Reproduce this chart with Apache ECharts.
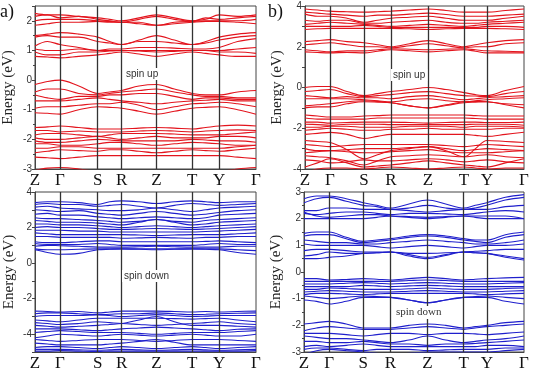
<!DOCTYPE html>
<html>
<head>
<meta charset="utf-8">
<script src="https://cdn.jsdelivr.net/npm/echarts@6/dist/echarts.min.js"></script>
<style>
  html, body { margin: 0; padding: 0; background: #fff; }
  #bands { width: 534px; height: 372px; }
</style>
</head>
<body>
<div id="bands"></div>
<script>
// high symmetry points (path lengths, left and right column)
var kNames = ['Z', 'Γ', 'S', 'R', 'Z', 'T', 'Y', 'Γ'];
var kLeft = [0, 25, 63, 87, 122, 158, 185, 222];
var kRight = [0, 25, 59, 86, 123, 159, 182, 219];

// energies at Z, mid, Γ, mid, S, mid, R, mid, Z, mid, T, mid, Y, mid, Γ
// a) spin up
var upA = [
  [2.25,2.2,2.2,2.15,2.1,2.05,2.0,2.1,2.2,2.1,2.0,2.05,2.2,2.15,2.2],
  [2.15,2.2,2.1,2.15,2.05,2.0,1.95,2.05,2.15,2.05,1.98,2.1,2.05,2.1,2.15],
  [2.0,2.05,2.05,2.05,2.0,1.98,1.95,1.95,1.85,1.95,1.98,2.0,2.0,2.0,2.05],
  [1.85,1.9,1.95,1.95,1.98,1.95,1.95,1.9,1.85,1.9,1.95,1.98,1.98,1.95,1.9],
  [1.5,1.55,1.6,1.55,1.45,1.3,1.2,1.35,1.5,1.35,1.2,1.3,1.45,1.55,1.6],
  [1.45,1.5,1.45,1.45,1.3,1.25,1.2,1.3,1.3,1.25,1.2,1.25,1.35,1.45,1.5],
  [1.15,1.3,1.2,1.1,1.0,1.05,1.05,1.1,1.1,1.08,1.05,1.05,1.1,1.3,1.4],
  [1.05,1.0,1.0,1.05,1.0,1.0,1.0,1.0,1.0,1.0,1.0,1.0,1.0,1.05,1.1],
  [0.95,0.85,0.85,0.95,0.95,0.98,1.0,0.98,0.95,0.97,1.0,1.0,0.95,0.95,0.9],
  [0.8,0.78,0.75,0.8,0.85,0.9,0.95,0.88,0.8,0.88,0.95,0.9,0.85,0.8,0.8],
  [-0.15,-0.05,0.0,-0.2,-0.45,-0.4,-0.35,-0.2,-0.15,-0.3,-0.45,-0.5,-0.5,-0.4,-0.35],
  [-0.4,-0.3,-0.3,-0.45,-0.5,-0.45,-0.4,-0.35,-0.3,-0.4,-0.5,-0.55,-0.55,-0.6,-0.6],
  [-0.5,-0.6,-0.65,-0.55,-0.55,-0.5,-0.5,-0.45,-0.45,-0.55,-0.65,-0.6,-0.6,-0.65,-0.65],
  [-0.7,-0.7,-0.7,-0.65,-0.6,-0.65,-0.7,-0.75,-0.8,-0.75,-0.7,-0.68,-0.65,-0.7,-0.7],
  [-0.95,-0.9,-0.9,-0.85,-0.8,-0.8,-0.75,-0.85,-1.0,-0.9,-0.8,-0.78,-0.75,-0.8,-0.9],
  [-1.1,-1.12,-1.15,-1.0,-0.9,-0.92,-0.95,-1.05,-1.15,-1.05,-0.95,-0.92,-0.9,-1.0,-1.15],
  [-1.6,-1.58,-1.55,-1.6,-1.65,-1.65,-1.65,-1.62,-1.6,-1.62,-1.65,-1.6,-1.55,-1.52,-1.55],
  [-1.7,-1.7,-1.75,-1.72,-1.75,-1.75,-1.75,-1.72,-1.7,-1.72,-1.75,-1.72,-1.7,-1.68,-1.7],
  [-1.85,-1.8,-1.8,-1.85,-1.9,-1.85,-1.8,-1.8,-1.8,-1.82,-1.85,-1.85,-1.85,-1.8,-1.75],
  [-1.95,-2.0,-2.0,-1.95,-1.9,-1.95,-2.0,-1.95,-1.9,-1.95,-1.95,-1.95,-1.9,-1.9,-1.95],
  [-2.05,-2.1,-2.1,-2.05,-2.0,-2.02,-2.05,-2.05,-2.05,-2.05,-2.0,-2.02,-2.05,-2.05,-2.1],
  [-2.15,-2.15,-2.2,-2.2,-2.15,-2.1,-2.1,-2.15,-2.2,-2.15,-2.1,-2.12,-2.15,-2.2,-2.2],
  [-2.3,-2.3,-2.25,-2.25,-2.3,-2.3,-2.3,-2.3,-2.3,-2.3,-2.3,-2.3,-2.3,-2.25,-2.2],
  [-2.45,-2.4,-2.35,-2.38,-2.4,-2.35,-2.35,-2.4,-2.45,-2.4,-2.35,-2.38,-2.4,-2.35,-2.3],
  [-2.6,-2.62,-2.65,-2.6,-2.55,-2.55,-2.55,-2.55,-2.55,-2.55,-2.55,-2.55,-2.55,-2.6,-2.65],
  [-3.05,-2.97,-2.95,-3.0,-3.1,-3.2,-3.3,-3.3,-3.3,-3.3,-3.3,-3.2,-3.1,-3.0,-2.95]
];

// b) spin up
var upB = [
  [3.85,3.8,3.75,3.72,3.7,3.72,3.75,3.8,3.85,3.78,3.7,3.7,3.7,3.78,3.85],
  [3.7,3.65,3.6,3.55,3.5,3.55,3.55,3.6,3.65,3.58,3.5,3.5,3.5,3.55,3.6],
  [3.6,3.5,3.5,3.4,3.2,3.3,3.4,3.45,3.5,3.4,3.3,3.3,3.3,3.4,3.5],
  [3.3,3.25,3.3,3.3,3.15,3.15,3.2,3.25,3.3,3.2,3.15,3.15,3.2,3.25,3.3],
  [3.1,3.15,3.2,3.15,3.1,3.05,3.0,3.05,3.1,3.05,3.0,3.05,3.1,3.15,3.2],
  [3.0,3.0,3.0,3.0,3.05,3.0,2.95,2.95,2.95,2.95,2.95,2.95,3.0,3.0,2.95],
  [2.85,2.88,2.9,2.9,2.9,2.9,2.9,2.88,2.85,2.88,2.9,2.9,2.9,2.88,2.85],
  [2.25,2.3,2.35,2.25,2.2,2.1,2.0,2.15,2.3,2.15,2.0,2.1,2.2,2.3,2.35],
  [2.1,2.15,2.2,2.1,2.0,2.0,1.95,2.05,2.15,2.05,1.95,2.0,2.0,2.15,2.2],
  [1.85,1.8,1.75,1.8,1.8,1.85,1.9,1.88,1.85,1.88,1.9,1.85,1.8,1.78,1.75],
  [1.75,1.72,1.7,1.72,1.7,1.78,1.85,1.8,1.75,1.8,1.85,1.78,1.7,1.7,1.7],
  [0.0,0.05,0.05,-0.2,-0.4,-0.3,-0.2,-0.1,0.0,-0.1,-0.25,-0.35,-0.4,-0.15,0.05],
  [-0.2,-0.15,-0.1,-0.3,-0.45,-0.4,-0.35,-0.25,-0.2,-0.3,-0.4,-0.42,-0.45,-0.3,-0.2],
  [-0.4,-0.45,-0.5,-0.45,-0.5,-0.5,-0.55,-0.45,-0.4,-0.5,-0.6,-0.55,-0.5,-0.45,-0.4],
  [-0.55,-0.55,-0.55,-0.55,-0.6,-0.65,-0.7,-0.6,-0.55,-0.65,-0.7,-0.65,-0.6,-0.55,-0.5],
  [-0.9,-0.85,-0.8,-0.7,-0.65,-0.68,-0.75,-0.9,-1.0,-0.85,-0.7,-0.68,-0.7,-0.8,-0.85],
  [-1.0,-0.95,-0.95,-0.8,-0.7,-0.72,-0.75,-0.9,-1.0,-0.88,-0.75,-0.72,-0.7,-0.85,-1.0],
  [-1.35,-1.4,-1.45,-1.45,-1.4,-1.38,-1.35,-1.35,-1.35,-1.35,-1.35,-1.38,-1.4,-1.4,-1.4],
  [-1.5,-1.55,-1.55,-1.55,-1.55,-1.5,-1.5,-1.5,-1.5,-1.5,-1.5,-1.52,-1.55,-1.55,-1.55],
  [-1.7,-1.7,-1.75,-1.72,-1.7,-1.7,-1.7,-1.72,-1.75,-1.72,-1.7,-1.7,-1.72,-1.72,-1.7],
  [-1.8,-1.82,-1.85,-1.8,-1.8,-1.8,-1.82,-1.82,-1.82,-1.82,-1.82,-1.8,-1.8,-1.8,-1.85],
  [-1.95,-1.95,-1.9,-1.9,-1.95,-1.95,-1.95,-1.9,-1.9,-1.9,-1.95,-1.9,-1.9,-1.9,-1.95],
  [-2.1,-2.05,-2.0,-2.05,-2.1,-2.1,-2.05,-2.05,-2.0,-2.05,-2.05,-2.05,-2.05,-2.0,-2.0],
  [-2.3,-2.25,-2.2,-2.3,-2.5,-2.4,-2.3,-2.3,-2.3,-2.3,-2.3,-2.35,-2.4,-2.3,-2.2],
  [-2.6,-2.65,-2.7,-3.05,-3.5,-3.3,-3.1,-3.0,-2.9,-3.1,-3.4,-3.0,-2.6,-2.65,-2.7],
  [-2.8,-2.85,-2.9,-2.85,-2.8,-2.8,-2.8,-2.8,-2.8,-2.85,-2.9,-2.85,-2.8,-2.85,-2.9],
  [-3.0,-3.1,-3.1,-3.05,-3.0,-3.0,-3.0,-2.95,-2.9,-3.0,-3.1,-3.05,-3.0,-3.05,-3.1],
  [-3.2,-3.15,-3.1,-3.15,-3.2,-3.2,-3.15,-3.1,-3.05,-3.15,-3.2,-3.2,-3.2,-3.15,-3.1],
  [-3.35,-3.4,-3.45,-3.6,-3.8,-3.6,-3.4,-3.35,-3.3,-3.35,-3.4,-3.35,-3.3,-3.4,-3.45],
  [-3.55,-3.6,-3.7,-3.65,-3.55,-3.6,-3.6,-3.55,-3.5,-3.55,-3.65,-3.6,-3.55,-3.65,-3.7],
  [-3.9,-3.7,-3.5,-3.7,-3.9,-3.85,-3.8,-3.7,-3.6,-3.7,-3.8,-3.85,-3.9,-3.7,-3.5],
  [-4.2,-4.0,-3.95,-3.95,-4.0,-3.95,-3.9,-3.95,-4.0,-3.95,-3.9,-3.95,-4.0,-3.95,-3.95]
];

// a) spin down
var downA = [
  [3.4,3.45,3.45,3.4,3.3,3.45,3.5,3.45,3.35,3.45,3.5,3.45,3.4,3.45,3.45],
  [3.3,3.35,3.3,3.3,3.2,3.25,3.3,3.2,3.1,3.25,3.35,3.3,3.25,3.3,3.35],
  [3.15,3.2,3.1,3.05,3.0,2.95,2.95,3.0,3.1,3.0,2.9,3.0,3.1,3.15,3.2],
  [3.0,2.95,2.9,2.95,2.8,2.75,2.7,2.8,2.9,2.8,2.7,2.75,2.85,2.95,3.0],
  [2.75,2.8,2.7,2.7,2.6,2.55,2.5,2.55,2.6,2.55,2.5,2.55,2.7,2.75,2.8],
  [2.55,2.5,2.5,2.45,2.4,2.35,2.3,2.35,2.45,2.35,2.3,2.4,2.45,2.5,2.55],
  [2.4,2.35,2.3,2.3,2.25,2.2,2.15,2.3,2.45,2.3,2.15,2.2,2.3,2.35,2.4],
  [2.2,2.2,2.15,2.15,2.1,2.05,2.0,2.05,2.1,2.05,2.0,2.05,2.1,2.15,2.2],
  [2.0,2.05,2.0,2.0,1.95,1.9,1.9,1.92,1.95,1.92,1.9,1.92,1.95,2.0,2.05],
  [1.85,1.85,1.85,1.8,1.8,1.75,1.75,1.75,1.75,1.75,1.75,1.78,1.8,1.85,1.9],
  [1.7,1.65,1.6,1.6,1.6,1.6,1.6,1.58,1.55,1.58,1.6,1.6,1.6,1.65,1.7],
  [1.5,1.5,1.45,1.45,1.45,1.45,1.4,1.42,1.45,1.42,1.4,1.45,1.45,1.5,1.5],
  [1.2,1.15,1.15,1.2,1.25,1.25,1.2,1.2,1.2,1.2,1.2,1.22,1.25,1.2,1.15],
  [1.1,1.05,1.05,1.05,1.1,1.05,1.0,1.0,1.0,1.0,1.0,1.05,1.1,1.05,1.05],
  [0.95,1.0,0.98,0.95,0.9,0.9,0.9,0.92,0.95,0.92,0.9,0.9,0.9,0.95,0.95],
  [0.8,0.75,0.75,0.78,0.8,0.8,0.8,0.8,0.8,0.8,0.8,0.8,0.8,0.75,0.7],
  [0.75,0.6,0.5,0.55,0.75,0.78,0.8,0.78,0.75,0.78,0.8,0.78,0.75,0.6,0.5],
  [-2.7,-2.72,-2.75,-2.72,-2.8,-2.75,-2.7,-2.7,-2.7,-2.72,-2.75,-2.72,-2.75,-2.72,-2.7],
  [-2.85,-2.8,-2.8,-2.85,-2.9,-2.88,-2.85,-2.85,-2.8,-2.85,-2.9,-2.88,-2.85,-2.82,-2.8],
  [-3.0,-2.95,-2.95,-2.95,-2.9,-2.95,-3.0,-2.95,-2.9,-2.95,-3.0,-2.98,-2.95,-2.95,-2.95],
  [-3.2,-3.25,-3.3,-3.2,-3.1,-3.1,-3.1,-3.1,-3.1,-3.12,-3.15,-3.12,-3.1,-3.2,-3.3],
  [-3.35,-3.4,-3.45,-3.4,-3.3,-3.35,-3.4,-3.45,-3.5,-3.45,-3.4,-3.35,-3.3,-3.4,-3.45],
  [-3.5,-3.55,-3.6,-3.55,-3.5,-3.45,-3.4,-3.2,-3.0,-3.3,-3.5,-3.5,-3.5,-3.55,-3.6],
  [-3.7,-3.7,-3.7,-3.75,-3.8,-3.75,-3.7,-3.65,-3.6,-3.65,-3.7,-3.75,-3.8,-3.72,-3.7],
  [-3.9,-3.85,-3.8,-3.85,-3.9,-3.9,-3.9,-3.95,-4.0,-3.95,-3.9,-3.9,-3.9,-3.85,-3.8],
  [-4.2,-4.1,-4.0,-4.05,-4.1,-4.05,-4.0,-4.05,-4.1,-4.05,-4.0,-4.05,-4.1,-4.1,-4.0],
  [-4.3,-4.35,-4.4,-4.35,-4.3,-4.3,-4.3,-4.35,-4.4,-4.35,-4.3,-4.3,-4.3,-4.35,-4.4],
  [-4.5,-4.55,-4.6,-4.6,-4.6,-4.55,-4.5,-4.4,-4.3,-4.45,-4.6,-4.6,-4.6,-4.6,-4.6],
  [-4.75,-4.7,-4.7,-4.75,-4.8,-4.75,-4.7,-4.75,-4.8,-4.75,-4.7,-4.75,-4.8,-4.75,-4.7],
  [-4.85,-4.85,-4.85,-4.88,-4.9,-4.88,-4.85,-4.88,-4.9,-4.88,-4.85,-4.88,-4.9,-4.88,-4.85],
  [-4.95,-4.95,-4.92,-4.95,-4.97,-4.95,-4.95,-4.95,-4.95,-4.95,-4.95,-4.95,-4.95,-4.95,-4.92]
];

// b) spin down
var downB = [
  [2.75,2.85,2.85,2.75,2.6,2.5,2.4,2.55,2.7,2.55,2.4,2.5,2.6,2.8,2.9],
  [2.6,2.75,2.8,2.65,2.5,2.45,2.35,2.4,2.5,2.4,2.35,2.4,2.5,2.7,2.8],
  [2.3,2.3,2.4,2.4,2.35,2.35,2.35,2.3,2.25,2.3,2.35,2.35,2.35,2.45,2.5],
  [2.2,2.15,2.2,2.25,2.25,2.2,2.15,2.2,2.2,2.18,2.15,2.2,2.25,2.3,2.25],
  [2.25,2.1,2.05,2.1,2.15,2.15,2.1,2.05,2.0,2.05,2.1,2.1,2.1,2.1,2.0],
  [2.0,2.0,2.0,2.0,2.0,2.05,2.1,2.08,2.05,2.08,2.1,2.05,2.0,2.0,2.0],
  [1.45,1.5,1.5,1.3,1.15,1.2,1.25,1.35,1.4,1.35,1.25,1.2,1.2,1.4,1.5],
  [1.35,1.4,1.4,1.25,1.1,1.15,1.2,1.3,1.35,1.3,1.2,1.15,1.1,1.3,1.4],
  [1.2,1.15,1.1,1.1,1.05,1.05,1.1,1.15,1.2,1.15,1.1,1.05,1.05,1.1,1.2],
  [1.05,1.0,1.0,1.0,1.0,0.95,0.9,0.95,1.0,0.95,0.9,0.95,1.0,1.0,1.05],
  [0.8,0.85,0.85,0.8,0.75,0.75,0.75,0.7,0.7,0.72,0.75,0.78,0.8,0.85,0.85],
  [0.6,0.65,0.75,0.7,0.7,0.72,0.75,0.65,0.55,0.65,0.75,0.72,0.7,0.6,0.5],
  [0.5,0.5,0.55,0.6,0.7,0.72,0.75,0.6,0.5,0.62,0.75,0.72,0.7,0.55,0.45],
  [-0.25,-0.25,-0.3,-0.28,-0.25,-0.27,-0.3,-0.25,-0.2,-0.25,-0.3,-0.27,-0.25,-0.22,-0.2],
  [-0.35,-0.35,-0.35,-0.35,-0.35,-0.35,-0.35,-0.32,-0.3,-0.32,-0.35,-0.35,-0.35,-0.35,-0.35],
  [-0.45,-0.45,-0.45,-0.42,-0.4,-0.42,-0.45,-0.42,-0.4,-0.42,-0.45,-0.45,-0.45,-0.42,-0.4],
  [-0.55,-0.55,-0.55,-0.55,-0.5,-0.52,-0.55,-0.52,-0.5,-0.52,-0.55,-0.55,-0.55,-0.55,-0.55],
  [-0.65,-0.65,-0.6,-0.62,-0.65,-0.65,-0.65,-0.63,-0.6,-0.63,-0.65,-0.65,-0.65,-0.62,-0.6],
  [-0.75,-0.72,-0.7,-0.72,-0.75,-0.75,-0.75,-0.72,-0.7,-0.72,-0.75,-0.75,-0.75,-0.72,-0.7],
  [-0.85,-0.8,-0.8,-0.82,-0.85,-0.82,-0.8,-0.8,-0.8,-0.8,-0.8,-0.82,-0.85,-0.82,-0.8],
  [-0.9,-0.95,-1.0,-0.95,-0.9,-0.92,-0.95,-1.05,-1.15,-1.05,-0.95,-0.92,-0.9,-0.95,-1.0],
  [-1.05,-1.1,-1.2,-1.1,-0.95,-0.95,-0.95,-1.05,-1.15,-1.05,-0.95,-0.95,-0.95,-1.1,-1.2],
  [-1.95,-1.9,-1.85,-1.95,-2.1,-2.1,-2.1,-2.0,-1.95,-2.0,-2.1,-2.05,-2.0,-1.9,-1.85],
  [-2.2,-2.1,-2.05,-2.1,-2.15,-2.15,-2.15,-2.1,-2.05,-2.1,-2.15,-2.1,-2.05,-2.0,-1.95],
  [-2.3,-2.3,-2.3,-2.35,-2.4,-2.35,-2.3,-2.3,-2.35,-2.3,-2.3,-2.32,-2.35,-2.3,-2.25],
  [-2.4,-2.45,-2.5,-2.5,-2.55,-2.6,-2.65,-2.55,-2.4,-2.55,-2.65,-2.6,-2.55,-2.5,-2.4],
  [-2.6,-2.6,-2.65,-2.65,-2.6,-2.65,-2.7,-2.7,-2.75,-2.7,-2.7,-2.68,-2.65,-2.6,-2.55],
  [-2.8,-2.75,-2.8,-2.75,-2.7,-2.75,-2.8,-2.8,-2.8,-2.8,-2.8,-2.8,-2.75,-2.75,-2.8],
  [-2.9,-2.85,-2.85,-2.9,-2.95,-2.9,-2.9,-2.9,-2.95,-2.92,-2.9,-2.9,-2.9,-2.85,-2.85],
  [-3.1,-2.95,-2.9,-2.95,-3.0,-3.05,-3.1,-3.05,-3.0,-3.0,-3.0,-3.0,-3.0,-2.95,-2.9]
];

// x of every sample: symmetry point, then half way to the next one
function samplesX(k) {
  var xs = [];
  for (var i = 0; i < k.length; i++) {
    xs.push(k[i]);
    if (i < k.length - 1) xs.push((k[i] + k[i + 1]) / 2);
  }
  return xs;
}

var myChart = echarts.init(document.getElementById('bands'));

var panels = [
  { grid: { left: 34, top: 6, width: 222, height: 163 }, k: kLeft, bands: upA, color: '#e3141d', min: -3, max: 2.5, even: false, gap: 19 },
  { grid: { left: 305, top: 6, width: 219, height: 163 }, k: kRight, bands: upB, color: '#e3141d', min: -4, max: 4, even: true, gap: 20 },
  { grid: { left: 35, top: 192, width: 221, height: 162 }, k: kLeft, bands: downA, color: '#1f1fcc', min: -5, max: 4, even: true, gap: 18 },
  { grid: { left: 304, top: 192, width: 220, height: 162 }, k: kRight, bands: downB, color: '#1f1fcc', min: -3, max: 3, even: false, gap: 20 }
];

var grids = [], xAxes = [], yAxes = [], series = [];

panels.forEach(function (p, pi) {
  grids.push(Object.assign({ show: true, borderColor: '#444', borderWidth: 1, backgroundColor: 'transparent' }, p.grid));

  var k = p.k;
  xAxes.push({
    type: 'value', gridIndex: pi, min: 0, max: k[k.length - 1],
    axisLine: { onZero: false, lineStyle: { color: '#444', width: 1 } },
    axisTick: { show: false },
    splitLine: { show: false },
    axisLabel: {
      customValues: k,
      margin: 3,
      color: '#111',
      fontFamily: 'Liberation Serif',
      fontSize: 17,
      formatter: function (v) { var i = k.indexOf(v); return i >= 0 ? kNames[i] : ''; }
    }
  });

  yAxes.push({
    type: 'value', gridIndex: pi, min: p.min, max: p.max, interval: 1,
    name: 'Energy (eV)', nameLocation: 'middle', nameGap: p.gap,
    nameTextStyle: { fontFamily: 'Liberation Serif', fontSize: 15, color: '#222' },
    axisLine: { onZero: false, lineStyle: { color: '#444', width: 1 } },
    axisTick: { show: true, length: 3, lineStyle: { color: '#444' } },
    minorTick: { show: !p.even, splitNumber: 2, length: 2, lineStyle: { color: '#444' } },
    splitLine: { show: false },
    axisLabel: {
      margin: 3, color: '#333', fontFamily: 'Liberation Sans', fontSize: 10,
      formatter: function (v) {
        if (Math.abs(v - Math.round(v)) > 1e-6) return '';
        if (p.even && Math.round(v) % 2 !== 0) return '';
        return String(Math.round(v));
      }
    }
  });

  var xs = samplesX(k);
  p.bands.forEach(function (band, bi) {
    var s = {
      type: 'line', xAxisIndex: pi, yAxisIndex: pi,
      data: band.map(function (e, j) { return [xs[j], e]; }),
      showSymbol: false, smooth: 0.35, clip: true,
      lineStyle: { color: p.color, width: 1.1 },
      animation: false, silent: true
    };
    if (bi === 0) {
      s.markLine = {
        silent: true, symbol: ['none', 'none'], animation: false,
        label: { show: false },
        lineStyle: { color: '#333', width: 1.3, type: 'solid' },
        data: k.slice(1, k.length - 1).map(function (v) { return { xAxis: v }; })
      };
    }
    series.push(s);
  });
});

var lbl = function (t, left, top, font, size) {
  return { text: t, left: left, top: top, padding: [1, 2], backgroundColor: '#fff',
    textStyle: { fontFamily: font, fontSize: size, fontWeight: 'normal', color: '#333' } };
};

myChart.setOption({
  animation: false,
  title: [
    { text: 'a)', left: 0, top: 3, padding: 0, textStyle: { fontFamily: 'Liberation Serif', fontSize: 18, fontWeight: 'normal', color: '#111' } },
    { text: 'b)', left: 268, top: 3, padding: 0, textStyle: { fontFamily: 'Liberation Serif', fontSize: 18, fontWeight: 'normal', color: '#111' } },
    lbl('spin up', 124, 68, 'Liberation Sans', 10),
    lbl('spin up', 391, 69, 'Liberation Sans', 10),
    lbl('spin down', 122, 270, 'Liberation Sans', 10),
    lbl('spin down', 394, 306, 'Liberation Serif', 11)
  ],
  grid: grids,
  xAxis: xAxes,
  yAxis: yAxes,
  series: series
});
</script>
</body>
</html>
